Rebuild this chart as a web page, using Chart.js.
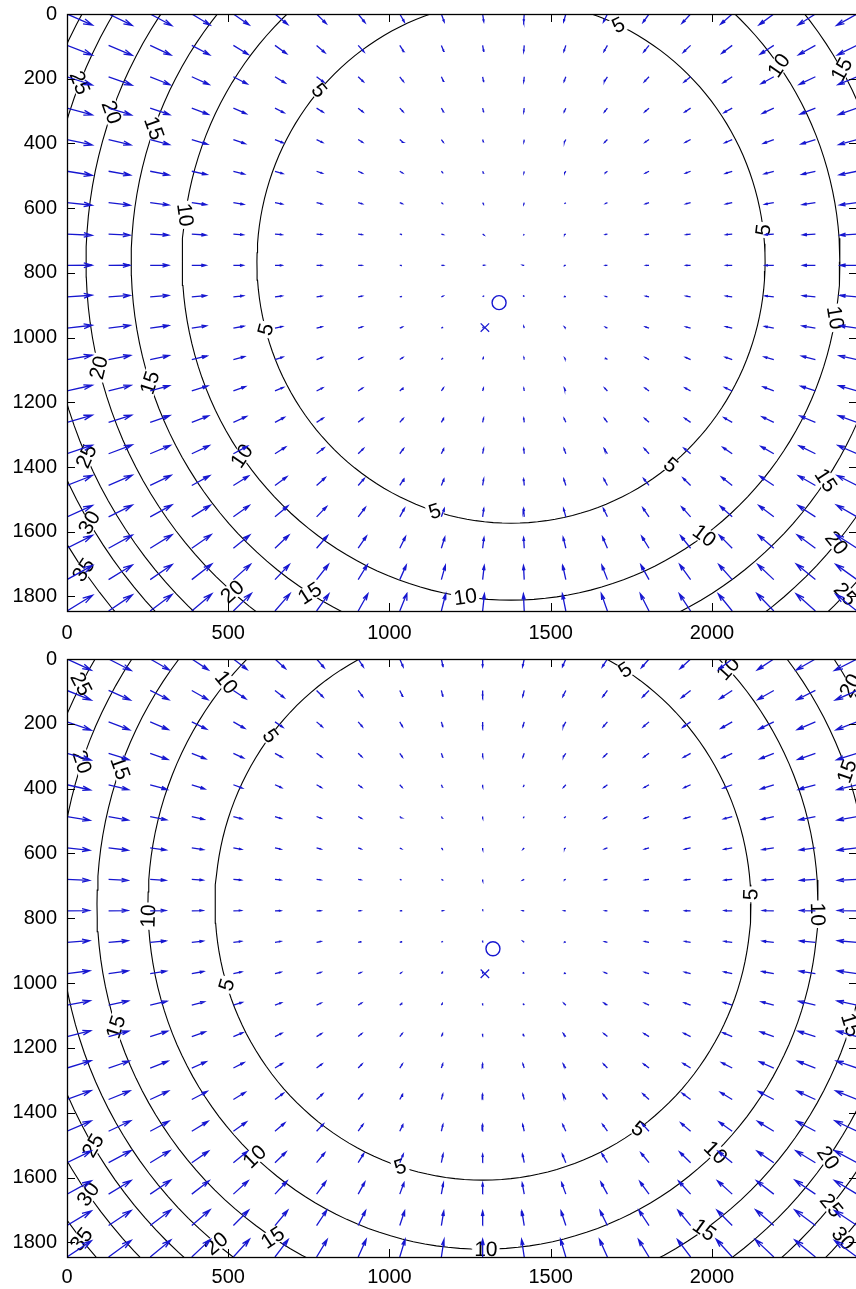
<!DOCTYPE html>
<html>
<head>
<meta charset="utf-8">
<script src="https://cdn.jsdelivr.net/npm/chart.js@4.4.1/dist/chart.umd.min.js"></script>
<style>
  html, body { margin: 0; padding: 0; background: #fff; overflow: hidden; }
  #wrap { position: relative; width: 856px; height: 1289px; overflow: hidden; }
  .panel { position: absolute; left: 0; width: 870px; }
</style>
</head>
<body>
<div id="wrap">
  <div class="panel" style="top:0;height:645px"><canvas id="topChart"></canvas></div>
  <div class="panel" style="top:645px;height:644px"><canvas id="bottomChart"></canvas></div>
</div>
<script>
// axes
const xMax = 2450;
const yMax = 1845;
const xTicks = [0, 500, 1000, 1500, 2000];
const yTicks = [0, 200, 400, 600, 800, 1000, 1200, 1400, 1600, 1800];

// quiver grid (20 x 20)
const gridX = [0, 129, 258, 387, 516, 645, 774, 903, 1032, 1161, 1289, 1418, 1547, 1676, 1805, 1934, 2063, 2192, 2321, 2450];
const gridY = [0, 97, 194, 291, 388, 486, 583, 680, 777, 874, 971, 1068, 1165, 1262, 1359, 1457, 1554, 1651, 1748, 1845];

// arrow length (data units) against distance from the field centre
const arrowDist = [0, 350, 480, 610, 740, 860, 990, 1130, 1250, 1380, 1750, 2200];
const arrowLen = [5, 6, 12, 16, 22, 30, 44, 58, 66, 78, 93, 110];
const arrowSquash = 0.78;   // arrows lean less steeply than the radial direction

// contour levels
const levels = [5, 10, 15, 20, 25, 30, 35];
const stretch = 1.025;      // contours are slightly taller than wide

// top panel
const topCentre = [1377, 766];
const topRadii = [788, 1020, 1178, 1318, 1442, 1526, 1619];
const topLabels = [
  [5, 221], [10, 188], [15, 200], [20, 200], [25, 202], [5, 165], [20, 166], [15, 162],
  [25, 156], [30, 149], [35, 145], [10, 145], [5, 107.5], [20, 131], [15, 122], [10, 98],
  [5, 51], [10, 54], [15, 34], [20, 40], [25, 44], [10, 9.5], [5, -7], [5, -65], [10, -35.5], [15, -29.5]
];
const topEstimate = [1340, 892];
const topSource = [1296, 969];

// bottom panel
const bottomCentre = [1290, 756];
const bottomRadii = [831, 1039, 1197, 1315, 1411, 1504, 1603];
const bottomLabels = [
  [10, 220], [5, 217.5], [25, 208], [20, 199], [15, 200], [10, 178], [5, 163], [15, 162],
  [25, 149], [30, 144.5], [35, 141], [20, 129], [15, 123], [10, 133], [5, 108], [10, 89.5],
  [5, 54.5], [10, 46], [15, 55], [20, 35.5], [25, 40], [30, 42], [5, -2], [10, 1.7],
  [15, 17.7], [5, -58], [10, -43], [15, -19.5], [20, -30]
];
const bottomEstimate = [1321, 894];
const bottomSource = [1296, 971];

const arrowColor = '#1717d0';
const fontFamily = '"Liberation Sans", Arial, Helvetica, sans-serif';

Chart.defaults.font.family = fontFamily;
Chart.defaults.font.size = 20;
Chart.defaults.color = '#000';

function lookupLength(d) {
  if (d <= arrowDist[0]) return arrowLen[0];
  for (let i = 1; i < arrowDist.length; i++) {
    if (d <= arrowDist[i]) {
      const f = (d - arrowDist[i - 1]) / (arrowDist[i] - arrowDist[i - 1]);
      return arrowLen[i - 1] + f * (arrowLen[i] - arrowLen[i - 1]);
    }
  }
  return arrowLen[arrowLen.length - 1];
}

function contourPoints(c, r) {
  const pts = [];
  for (let a = 0; a <= 360; a += 2) {
    const t = a * Math.PI / 180;
    pts.push({ x: c[0] + r * Math.cos(t), y: c[1] + r * stretch * Math.sin(t) });
  }
  return pts;
}

function arrowPoints(c) {
  const pts = [];
  const alpha = 0.33, beta = 0.28;
  gridX.forEach(gx => {
    gridY.forEach(gy => {
      const dx = c[0] - gx, dy = c[1] - gy;
      const d = Math.hypot(dx, dy);
      const L = lookupLength(d);
      const n = Math.hypot(dx, dy * arrowSquash) || 1;
      const u = L * dx / n, v = L * dy * arrowSquash / n;
      const tx = gx + u, ty = gy + v;
      pts.push({ x: gx, y: gy }, { x: tx, y: ty }, { x: tx, y: null });
      pts.push({ x: tx - alpha * (u + beta * v), y: ty - alpha * (v - beta * u) });
      pts.push({ x: tx, y: ty });
      pts.push({ x: tx - alpha * (u - beta * v), y: ty - alpha * (v + beta * u) });
      pts.push({ x: tx, y: null });
    });
  });
  return pts;
}

// inline contour labels (MATLAB clabel style, rotated along the line)
const contourLabels = {
  id: 'contourLabels',
  afterDatasetDraw(chart, args) {
    const ds = chart.data.datasets[args.index];
    if (ds.kind !== 'contour') return;
    const p = chart.options.plugins.contourLabels;
    const xs = chart.scales.x, ys = chart.scales.y;
    const sx = (xs.getPixelForValue(1000) - xs.getPixelForValue(0)) / 1000;
    const sy = (ys.getPixelForValue(1000) - ys.getPixelForValue(0)) / 1000;
    const area = chart.chartArea;
    const ctx = chart.ctx;
    ctx.save();
    ctx.beginPath();
    ctx.rect(area.left, area.top, area.right - area.left, area.bottom - area.top);
    ctx.clip();
    ctx.font = '21px ' + fontFamily;
    ctx.textAlign = 'center';
    ctx.textBaseline = 'middle';
    p.labels.forEach(([lev, deg]) => {
      if (lev !== ds.level) return;
      const r = p.radii[levels.indexOf(lev)];
      const t = deg * Math.PI / 180;
      const px = xs.getPixelForValue(p.centre[0] + r * Math.cos(t));
      const py = ys.getPixelForValue(p.centre[1] + r * stretch * Math.sin(t));
      let ang = Math.atan2(r * stretch * Math.cos(t) * sy, -r * Math.sin(t) * sx);
      if (ang > Math.PI / 2) ang -= Math.PI;
      if (ang <= -Math.PI / 2) ang += Math.PI;
      const txt = String(lev);
      const w = ctx.measureText(txt).width;
      ctx.save();
      ctx.translate(px, py);
      ctx.rotate(-ang);
      ctx.fillStyle = '#fff';
      ctx.fillRect(-w / 2 - 2, -8, w + 4, 16);
      ctx.fillStyle = '#000';
      ctx.fillText(txt, 0, 1);
      ctx.restore();
    });
    ctx.restore();
  }
};

// axes box with inward ticks on all sides
const frame = {
  id: 'frame',
  afterDraw(chart) {
    const { ctx, chartArea: a } = chart;
    const xs = chart.scales.x, ys = chart.scales.y;
    const tl = 8;
    ctx.save();
    ctx.strokeStyle = '#000';
    ctx.lineWidth = 1;
    ctx.beginPath();
    xTicks.forEach(v => {
      const px = Math.round(xs.getPixelForValue(v)) + 0.5;
      ctx.moveTo(px, a.bottom); ctx.lineTo(px, a.bottom - tl);
      ctx.moveTo(px, a.top); ctx.lineTo(px, a.top + tl);
    });
    yTicks.forEach(v => {
      const py = Math.round(ys.getPixelForValue(v)) + 0.5;
      ctx.moveTo(a.left, py); ctx.lineTo(a.left + tl, py);
      ctx.moveTo(a.right, py); ctx.lineTo(a.right - tl, py);
    });
    ctx.stroke();
    ctx.lineWidth = 1.3;
    ctx.strokeRect(Math.round(a.left) + 0.5, Math.round(a.top) + 0.5,
      Math.round(a.right - a.left), Math.round(a.bottom - a.top));
    ctx.restore();
  }
};

function makePanel(id, centre, radii, labels, estimate, source, axisHeight, labelPad) {
  const datasets = levels.map((lev, i) => ({
    kind: 'contour',
    level: lev,
    data: contourPoints(centre, radii[i]),
    showLine: true,
    borderColor: '#000',
    borderWidth: 1.1,
    pointRadius: 0,
    order: 3
  }));
  datasets.push({
    kind: 'arrows',
    data: arrowPoints(centre),
    showLine: true,
    spanGaps: false,
    borderColor: arrowColor,
    borderWidth: 1.3,
    pointRadius: 0,
    order: 2
  });
  datasets.push({
    data: [{ x: estimate[0], y: estimate[1] }],
    pointStyle: 'circle',
    pointRadius: 7,
    borderColor: arrowColor,
    borderWidth: 1.4,
    backgroundColor: 'rgba(0,0,0,0)',
    order: 1
  });
  datasets.push({
    data: [{ x: source[0], y: source[1] }],
    pointStyle: 'crossRot',
    pointRadius: 6,
    borderColor: arrowColor,
    borderWidth: 1.2,
    order: 1
  });

  return new Chart(document.getElementById(id), {
    type: 'scatter',
    data: { datasets },
    options: {
      responsive: true,
      maintainAspectRatio: false,
      animation: false,
      events: [],
      layout: { padding: { top: 14, right: 13, left: 0, bottom: 0 } },
      plugins: {
        legend: { display: false },
        tooltip: { enabled: false },
        contourLabels: { centre, radii, labels }
      },
      scales: {
        x: {
          type: 'linear',
          min: 0,
          max: xMax,
          grid: { display: false, drawTicks: false },
          border: { display: false },
          afterBuildTicks: axis => { axis.ticks = xTicks.map(v => ({ value: v })); },
          afterFit: axis => { axis.height = axisHeight; axis.paddingLeft = 0; axis.paddingRight = 0; },
          ticks: { padding: labelPad, maxRotation: 0, autoSkip: false, callback: v => String(v) }
        },
        y: {
          type: 'linear',
          reverse: true,
          min: 0,
          max: yMax,
          grid: { display: false, drawTicks: false },
          border: { display: false },
          afterBuildTicks: axis => { axis.ticks = yTicks.map(v => ({ value: v })); },
          afterFit: axis => { axis.width = 67; axis.paddingTop = 0; axis.paddingBottom = 0; },
          ticks: { padding: 10, autoSkip: false, callback: v => String(v) }
        }
      }
    },
    plugins: [contourLabels, frame]
  });
}

makePanel('topChart', topCentre, topRadii, topLabels, topEstimate, topSource, 34, 10);
makePanel('bottomChart', bottomCentre, bottomRadii, bottomLabels, bottomEstimate, bottomSource, 32, 8);
</script>
</body>
</html>
